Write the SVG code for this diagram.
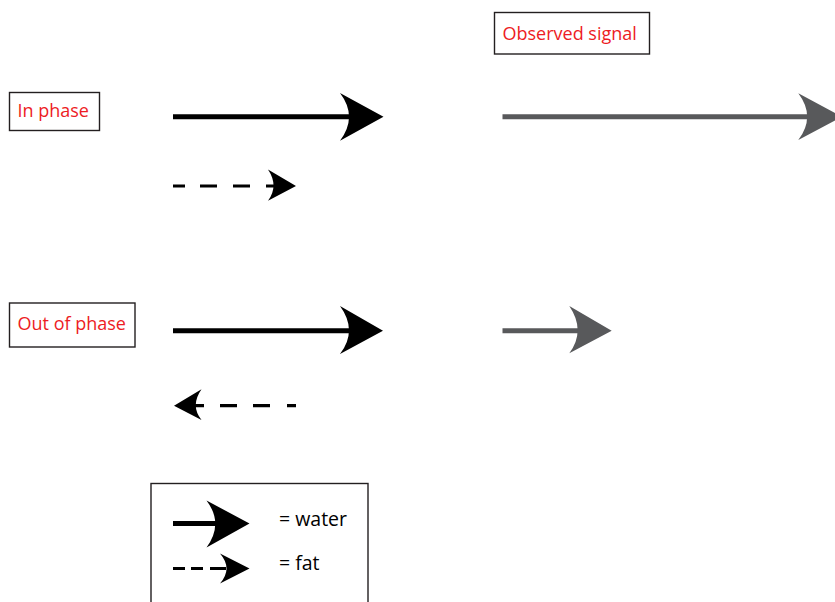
<svg xmlns="http://www.w3.org/2000/svg" width="835" height="602" viewBox="0 0 835 602">
  <style>
    .box { fill: #ffffff; stroke: #231f20; stroke-width: 1.4; }
    .lbl { font-family: "Open Sans", "Liberation Sans", sans-serif; font-size: 18px; fill: #ed1c24; }
    .key { font-family: "Open Sans", "Liberation Sans", sans-serif; font-size: 19.5px; fill: #000000; }
    .shaft { stroke: #000000; stroke-width: 5; fill: none; }
    .shaft-g { stroke: #58595b; stroke-width: 5; fill: none; }
    .dash { stroke: #000000; stroke-width: 3.2; fill: none; }
    .head { fill: #000000; }
    .head-g { fill: #58595b; }
  </style>

  <!-- labels -->
  <g id="in-phase">
    <rect class="box" x="9.5" y="92.5" width="90" height="38"/>
    <text class="lbl" x="17.5" y="117">In phase</text>
  </g>
  <g id="out-of-phase">
    <rect class="box" x="9.5" y="303" width="125.5" height="44"/>
    <text class="lbl" x="17.5" y="330">Out of phase</text>
  </g>
  <g id="observed-signal">
    <rect class="box" x="494.5" y="12.5" width="155" height="41.5"/>
    <text class="lbl" x="502.5" y="39.5">Observed signal</text>
  </g>

  <!-- legend -->
  <g id="legend">
    <rect class="box" x="151" y="483.5" width="217" height="130"/>
    <line class="shaft" x1="173" y1="523.5" x2="216" y2="523.5"/>
    <path class="head" d="M206.5,500.5 L249.5,523.5 L206.5,547.5 Q224,523.5 206.5,500.5 Z"/>
    <text class="key" x="279" y="525.5">= water</text>
    <path class="dash" d="M173,568.5 H185 M191,568.5 H203 M210,568.5 H226"/>
    <path class="head" d="M220,553.5 L249.5,568.5 L220,583.5 Q233,568.5 220,553.5 Z"/>
    <text class="key" x="279" y="569.5">= fat</text>
  </g>

  <!-- arrows -->
  <g id="connectors">
    <!-- in phase: water + fat add up -->
    <line class="shaft" x1="173" y1="116.7" x2="352" y2="116.7"/>
    <path class="head" d="M340,93 L383.5,116.7 L340,140.7 Q358,116.7 340,93 Z"/>
    <path class="dash" d="M173,186 H185 M200,186 H217 M233,186 H250 M266,186 H276"/>
    <path class="head" d="M268,169.5 L296,186 L268,200.8 Q279,186 268,169.5 Z"/>
    <line class="shaft-g" x1="502.5" y1="116.7" x2="812" y2="116.7"/>
    <path class="head-g" d="M798.3,93.3 L842,116.7 L798.3,140 Q816,116.7 798.3,93.3 Z"/>

    <!-- out of phase: water minus fat -->
    <line class="shaft" x1="173" y1="330.7" x2="352" y2="330.7"/>
    <path class="head" d="M340,306 L383,330.7 L340,354 Q358,330.7 340,306 Z"/>
    <path class="dash" d="M192,405.7 H204 M220,405.7 H237 M253,405.7 H270 M287,405.7 H296"/>
    <path class="head" d="M201.5,389.3 L174,405.7 L201.5,420 Q190,405.7 201.5,389.3 Z"/>
    <line class="shaft-g" x1="502.5" y1="330.7" x2="580" y2="330.7"/>
    <path class="head-g" d="M569.3,306 L611.7,330.7 L569.3,353.3 Q586,330.7 569.3,306 Z"/>
  </g>
</svg>
